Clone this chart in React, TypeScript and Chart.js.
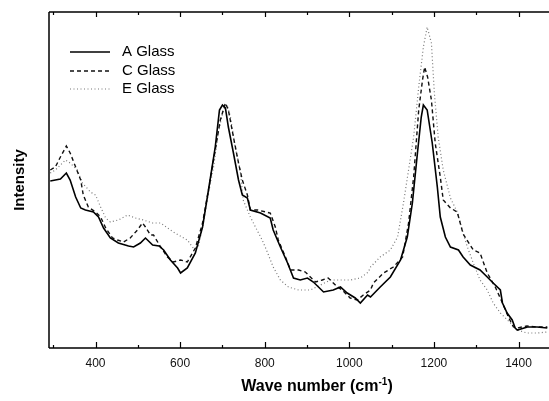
import React, { useEffect, useRef } from "react";
import { Chart, registerables } from "chart.js";

Chart.register(...registerables);

// A Glass (solid)
const aWave = [293, 305, 317, 331, 340, 353, 365, 376, 395, 407, 419, 435, 454, 478, 490, 506, 518, 535, 550, 561, 577, 594, 601, 617, 636, 653, 667, 683, 693, 700, 707, 714, 726, 738, 747, 759, 766, 790, 813, 820, 837, 854, 868, 884, 901, 915, 939, 962, 979, 995, 1014, 1026, 1043, 1050, 1073, 1097, 1121, 1137, 1149, 1161, 1170, 1175, 1184, 1196, 1208, 1215, 1227, 1239, 1258, 1269, 1286, 1309, 1326, 1340, 1357, 1362, 1373, 1385, 1392, 1397, 1421, 1444, 1468];
const aInt = [167, 168, 169, 175, 168, 151, 140, 138, 136, 131, 120, 110, 105, 102, 101, 105, 110, 103, 102, 98, 88, 80, 75, 80, 95, 121, 158, 201, 238, 243, 240, 221, 195, 168, 153, 150, 138, 135, 130, 118, 101, 85, 70, 68, 70, 66, 56, 58, 61, 55, 50, 45, 53, 51, 61, 71, 88, 111, 145, 195, 231, 243, 238, 205, 161, 131, 111, 101, 98, 91, 83, 78, 71, 65, 58, 45, 35, 28, 20, 18, 21, 21, 20];

// C Glass (dashed)
const cWave = [293, 305, 317, 331, 340, 353, 365, 371, 383, 400, 412, 424, 440, 452, 466, 482, 499, 511, 518, 530, 537, 554, 570, 584, 601, 617, 636, 653, 667, 683, 695, 707, 714, 726, 738, 747, 759, 766, 783, 813, 825, 832, 849, 861, 880, 896, 920, 936, 950, 972, 983, 1002, 1019, 1033, 1050, 1057, 1081, 1104, 1126, 1140, 1152, 1164, 1173, 1178, 1185, 1194, 1203, 1215, 1222, 1239, 1255, 1269, 1293, 1309, 1326, 1345, 1362, 1376, 1388, 1397, 1420, 1445, 1468];
const cInt = [178, 181, 191, 202, 195, 181, 168, 153, 141, 136, 131, 120, 110, 108, 106, 110, 118, 125, 121, 113, 113, 101, 91, 86, 88, 86, 100, 125, 158, 198, 228, 245, 238, 211, 185, 168, 153, 138, 138, 135, 121, 108, 91, 78, 78, 76, 66, 68, 70, 61, 58, 50, 48, 53, 58, 65, 75, 81, 91, 125, 171, 238, 268, 281, 271, 248, 205, 171, 148, 140, 136, 114, 98, 95, 75, 61, 45, 31, 21, 20, 22, 21, 21];

// E Glass (dotted)
const eWave = [293, 305, 317, 329, 340, 357, 369, 388, 400, 412, 424, 435, 454, 476, 494, 513, 535, 554, 584, 617, 631, 643, 655, 667, 679, 690, 702, 711, 719, 730, 742, 749, 766, 778, 794, 806, 820, 837, 856, 880, 908, 932, 955, 979, 1002, 1026, 1045, 1050, 1073, 1097, 1114, 1128, 1140, 1152, 1164, 1175, 1184, 1194, 1201, 1210, 1222, 1239, 1255, 1267, 1279, 1293, 1309, 1326, 1340, 1357, 1381, 1397, 1420, 1445, 1468];
const eInt = [175, 178, 183, 188, 185, 178, 165, 156, 153, 141, 130, 126, 128, 133, 130, 128, 125, 125, 116, 108, 100, 101, 125, 155, 181, 215, 238, 243, 231, 201, 178, 148, 131, 121, 108, 96, 81, 68, 61, 58, 58, 63, 68, 68, 68, 70, 76, 81, 91, 98, 111, 145, 178, 211, 261, 301, 321, 305, 255, 211, 178, 150, 136, 118, 101, 85, 68, 58, 45, 35, 25, 18, 15, 15, 16];

const seriesNames = ["A Glass", "C Glass", "E Glass"];
const xTicks = [400, 600, 800, 1000, 1200, 1400];
const xMinorTicks = [300, 500, 700, 900, 1100, 1300];
const xMin = 290;
const xMax = 1472;
const yMin = 0;
const yMax = 336;

const FONT = "'Liberation Sans', Arial, Helvetica, sans-serif";

const toPts = (xs: number[], ys: number[]) => xs.map((x, i) => ({ x, y: ys[i] }));

const framePlugin = {
  id: "frameAndDecor",
  afterDatasetsDraw(chart: any) {
    const { ctx, chartArea } = chart;
    const { left, right, top, bottom } = chartArea;
    const xs = chart.scales.x;
    ctx.save();
    ctx.strokeStyle = "#000";
    ctx.lineWidth = 1.5;
    ctx.beginPath();
    ctx.moveTo(left, top);
    ctx.lineTo(right, top);
    ctx.moveTo(left, top);
    ctx.lineTo(left, bottom);
    ctx.moveTo(left, bottom);
    ctx.lineTo(right, bottom);
    ctx.stroke();
    ctx.lineWidth = 1.2;
    ctx.beginPath();
    xTicks.forEach((v) => {
      const px = Math.round(xs.getPixelForValue(v)) + 0.5;
      ctx.moveTo(px, bottom);
      ctx.lineTo(px, bottom - 6);
      ctx.moveTo(px, top);
      ctx.lineTo(px, top + 5);
    });
    xMinorTicks.forEach((v) => {
      if (v < xMin || v > xMax) return;
      const px = Math.round(xs.getPixelForValue(v)) + 0.5;
      ctx.moveTo(px, bottom);
      ctx.lineTo(px, bottom - 3);
      ctx.moveTo(px, top);
      ctx.lineTo(px, top + 3);
    });
    ctx.stroke();

    // legend
    const ds = chart.data.datasets;
    const lx0 = left + 21;
    const lx1 = left + 61;
    const rows = [top + 40, top + 59, top + 77];
    ctx.font = `15px ${FONT}`;
    ctx.textBaseline = "middle";
    ctx.fillStyle = "#000";
    ds.forEach((d: any, i: number) => {
      ctx.beginPath();
      ctx.strokeStyle = d.borderColor;
      ctx.lineWidth = d.borderWidth;
      ctx.setLineDash(d.borderDash || []);
      ctx.moveTo(lx0, rows[i]);
      ctx.lineTo(lx1, rows[i]);
      ctx.stroke();
      ctx.setLineDash([]);
      ctx.fillText(d.label, lx1 + 12, rows[i]);
    });

    // y title
    ctx.save();
    ctx.translate(20, (top + bottom) / 2);
    ctx.rotate(-Math.PI / 2);
    ctx.font = `bold 15px ${FONT}`;
    ctx.textAlign = "center";
    ctx.textBaseline = "middle";
    ctx.fillText("Intensity", 0, 0);
    ctx.restore();

    // x title with superscript
    const main = "Wave number (cm";
    const sup = "-1";
    const tail = ")";
    ctx.font = `bold 16px ${FONT}`;
    const w1 = ctx.measureText(main).width;
    const w3 = ctx.measureText(tail).width;
    ctx.font = `bold 10px ${FONT}`;
    const w2 = ctx.measureText(sup).width;
    const total = w1 + w2 + w3;
    const cx = 317;
    const baseY = 391;
    let x = cx - total / 2;
    ctx.textAlign = "left";
    ctx.textBaseline = "alphabetic";
    ctx.font = `bold 16px ${FONT}`;
    ctx.fillText(main, x, baseY);
    x += w1;
    ctx.font = `bold 10px ${FONT}`;
    ctx.fillText(sup, x, baseY - 6);
    x += w2;
    ctx.font = `bold 16px ${FONT}`;
    ctx.fillText(tail, x, baseY);
    ctx.restore();
  },
};

export default function App() {
  const ref = useRef<HTMLCanvasElement | null>(null);
  useEffect(() => {
    document.body.style.margin = "0";
    const canvas = ref.current;
    if (!canvas) return;
    const chart = new Chart(canvas, {
      type: "line",
      data: {
        datasets: [
          {
            label: seriesNames[0],
            data: toPts(aWave, aInt),
            borderColor: "#000",
            borderWidth: 1.6,
            pointRadius: 0,
            tension: 0,
            fill: false,
          },
          {
            label: seriesNames[1],
            data: toPts(cWave, cInt),
            borderColor: "#111",
            borderWidth: 1.4,
            borderDash: [4, 3],
            pointRadius: 0,
            tension: 0,
            fill: false,
          },
          {
            label: seriesNames[2],
            data: toPts(eWave, eInt),
            borderColor: "#777",
            borderWidth: 1.2,
            borderDash: [1, 2.5],
            pointRadius: 0,
            tension: 0,
            fill: false,
          },
        ],
      },
      options: {
        responsive: false,
        animation: false,
        devicePixelRatio: 1,
        layout: { padding: { left: 49, top: 12, right: 0, bottom: 0 } },
        plugins: { legend: { display: false }, tooltip: { enabled: false }, title: { display: false } },
        scales: {
          x: {
            type: "linear",
            min: xMin,
            max: xMax,
            grid: { display: false, drawTicks: false },
            border: { display: false },
            afterBuildTicks: (scale: any) => {
              scale.ticks = xTicks.map((v) => ({ value: v }));
            },
            afterFit: (scale: any) => {
              scale.height = 53;
            },
            ticks: {
              padding: 8,
              color: "#111",
              font: { family: FONT, size: 12 },
              maxRotation: 0,
              autoSkip: false,
              callback: (v: any) => String(v),
            },
          },
          y: {
            type: "linear",
            display: false,
            min: yMin,
            max: yMax,
          },
        },
      },
      plugins: [framePlugin],
    });
    return () => chart.destroy();
  }, []);
  return (
    <div style={{ position: "absolute", left: 0, top: 0, width: 549, height: 401, background: "#fff" }}>
      <canvas ref={ref} width={549} height={401} style={{ display: "block" }} />
    </div>
  );
}
